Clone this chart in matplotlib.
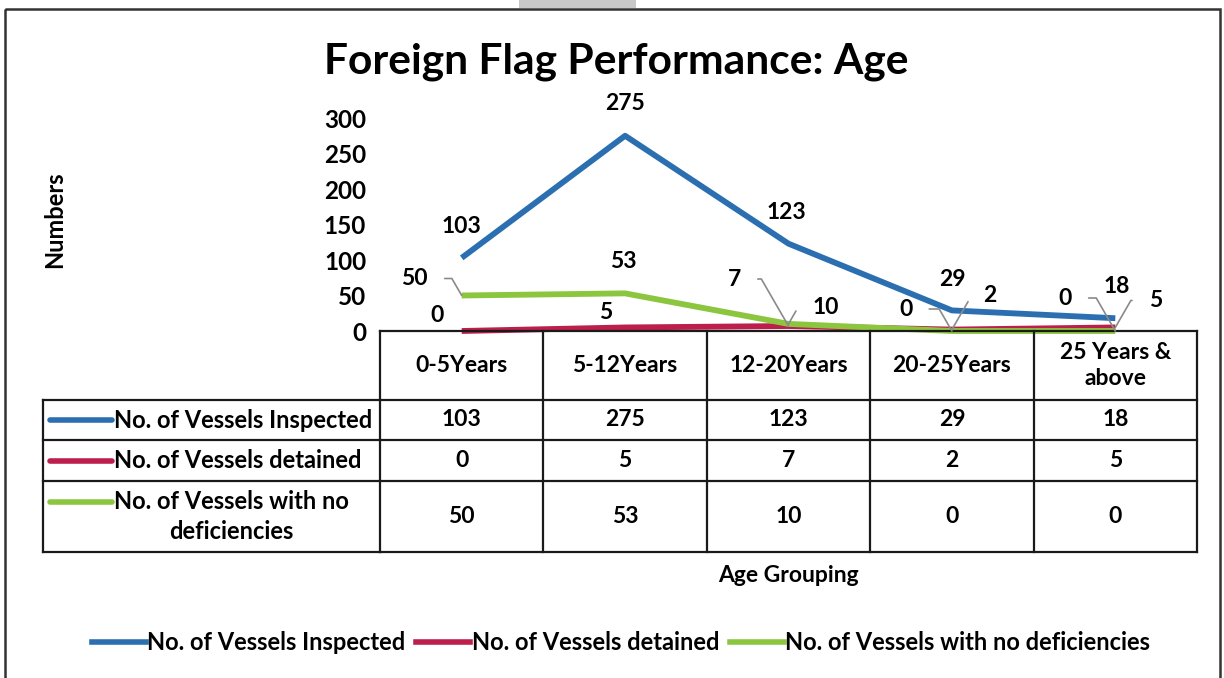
import numpy as np
import matplotlib.pyplot as plt
from matplotlib.lines import Line2D
from matplotlib.patches import Rectangle
from matplotlib.transforms import blended_transform_factory

plt.rcParams['font.family'] = ['Lato', 'DejaVu Sans']
plt.rcParams['font.weight'] = 'bold'

# data
age_groups = ['0-5Years', '5-12Years', '12-20Years', '20-25Years', '25 Years &\nabove']
series_names = ['No. of Vessels Inspected', 'No. of Vessels detained',
                'No. of Vessels with no deficiencies']
table_names = ['No. of Vessels Inspected', 'No. of Vessels detained',
               'No. of Vessels with no\ndeficiencies']
inspected = [103, 275, 123, 29, 18]
detained = [0, 5, 7, 2, 5]
no_deficiencies = [50, 53, 10, 0, 0]
series = [inspected, detained, no_deficiencies]
colors = ['#2b6fb1', '#bc1f4c', '#8cc63f']

# label offsets in pixels (dx, dy) and whether a leader line is drawn
label_pos = [
    [(0, 31, 0), (0, 32, 0), (-2, 31, 0), (0, 31, 0), (1, 32, 0)],
    [(-25, 16, 0), (-19, 15, 0), (-54, 47, 1), (38, 34, 1), (40, 27, 1)],
    [(-47, 17, 1), (-2, 32, 0), (37, 16, 1), (-46, 22, 1), (-50, 33, 1)],
]

W, H = 1224, 678
fig = plt.figure(figsize=(W / 100, H / 100), dpi=100)

# page-like overlay in pixel coords
pg = fig.add_axes([0, 0, 1, 1])
pg.set_xlim(0, W)
pg.set_ylim(H, 0)
pg.axis('off')
pg.add_patch(Rectangle((5, 9), 1215, 700, fill=False, lw=1.8, ec='#333333'))
pg.add_patch(Rectangle((519, -2), 117, 10, fc='#c8c8c8', ec='none'))

fig.text(616 / W, 1 - 62 / H, 'Foreign Flag Performance: Age', fontsize=30.6,
         ha='center', va='center')

ax = fig.add_axes([380 / W, 1 - 331 / H, 817 / W, 213 / H])
x = np.arange(len(age_groups))
for vals, c in zip(series, colors):
    ax.plot(x, vals, color=c, lw=4.2, solid_capstyle='butt', clip_on=False)

for vals, poss in zip(series, label_pos):
    for i, (v, (dx, dy, lead)) in enumerate(zip(vals, poss)):
        if lead:
            ax.annotate(str(v), xy=(i, v), xytext=(dx, dy), textcoords='offset pixels',
                        ha='center', va='center', fontsize=16.5,
                        arrowprops=dict(arrowstyle='-', color='#8a8a8a', lw=1.2,
                                        shrinkA=10, shrinkB=0,
                                        connectionstyle='angle,angleA=0,angleB=%d,rad=0'
                                        % (120 if dx < 0 else 60)))
        else:
            ax.annotate(str(v), xy=(i, v), xytext=(dx, dy), textcoords='offset pixels',
                        ha='center', va='center', fontsize=16.5)

ax.set_xlim(-0.5, len(age_groups) - 0.5)
ax.set_ylim(0, 300)
ax.set_yticks(range(0, 301, 50))
ax.tick_params(axis='y', length=0, pad=10, labelsize=17.5)
ax.set_xticks([])
for s in ax.spines.values():
    s.set_visible(False)
ax.patch.set_alpha(0)

# data table under the chart
tr = blended_transform_factory(ax.transData, pg.transData)
rows = [331, 400, 440, 481, 552]
left = -0.5
right = len(age_groups) - 0.5
lab_left = 43
kw = dict(color='#1a1a1a', lw=1.6, clip_on=False)
pg.plot([380, 380], [rows[0], rows[-1]], **kw)
pg.plot([lab_left, lab_left], [rows[1], rows[-1]], **kw)
for j in range(len(age_groups)):
    ax.plot([j + 0.5, j + 0.5], [rows[0], rows[-1]], transform=tr, **kw)
ax.plot([left, right], [rows[0], rows[0]], transform=tr, **kw)
for r in rows[1:]:
    pg.plot([lab_left, 380], [r, r], **kw)
    ax.plot([left, right], [r, r], transform=tr, **kw)

for j, g in enumerate(age_groups):
    ax.text(j, (rows[0] + rows[1]) / 2, g, transform=tr, ha='center', va='center',
            fontsize=16.5, linespacing=1.3)
for k, (name, vals, c) in enumerate(zip(table_names, series, colors)):
    yc = (rows[k + 1] + rows[k + 2]) / 2
    ky = yc if k < 2 else yc - 15
    pg.plot([50, 112], [ky, ky], color=c, lw=4, solid_capstyle='round')
    pg.text(114, yc, name, ha='left', va='center', fontsize=17,
            multialignment='center', linespacing=1.35)
    for j, v in enumerate(vals):
        ax.text(j, yc, str(v), transform=tr, ha='center', va='center', fontsize=16.5)

fig.text(788 / W, 1 - 576 / H, 'Age Grouping', fontsize=16.5, ha='center', va='center')
fig.text(55 / W, 1 - 220 / H, 'Numbers', fontsize=17, ha='center', va='center',
         rotation=90)

handles = [Line2D([], [], color=c, lw=4) for c in colors]
fig.legend(handles, series_names, loc='center', bbox_to_anchor=(621 / W, 1 - 643 / H),
           ncol=3, frameon=False, fontsize=17, handlelength=2.3, handletextpad=0.05,
           columnspacing=0.45)

fig.savefig('out.png', dpi=100)
